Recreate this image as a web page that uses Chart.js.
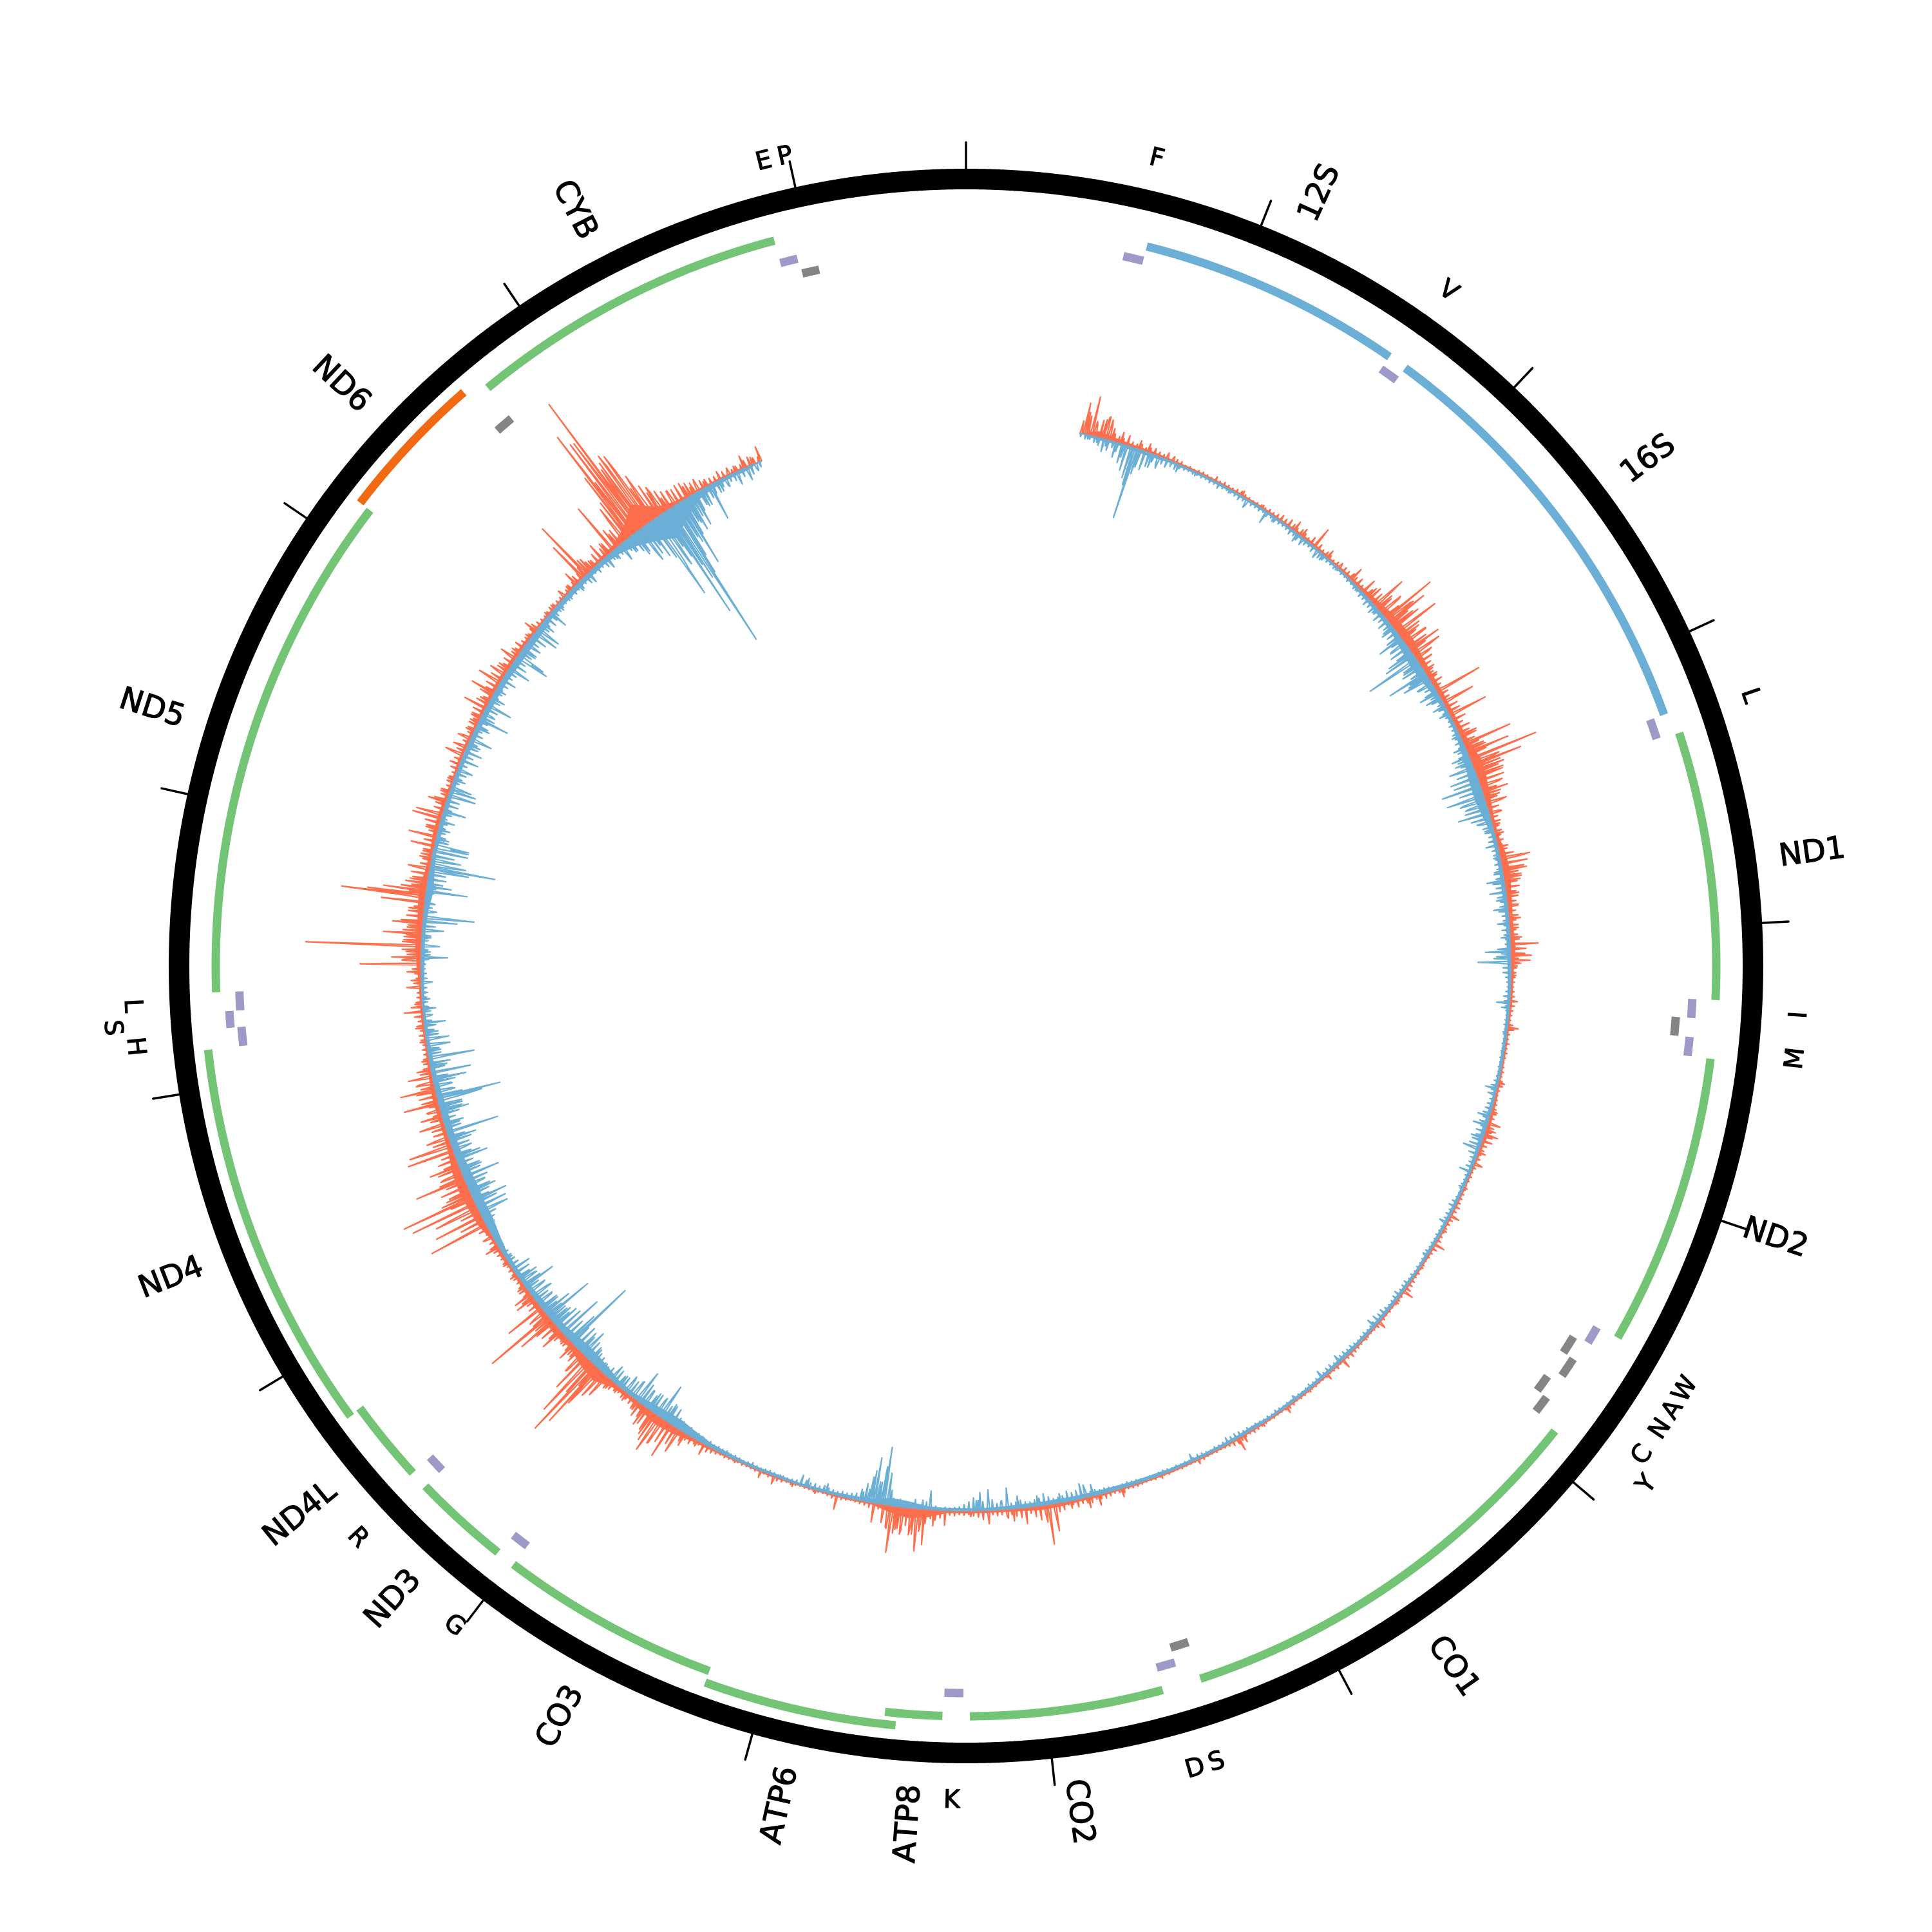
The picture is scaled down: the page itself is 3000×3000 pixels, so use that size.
<!DOCTYPE html>
<html>
<head>
<meta charset="utf-8">
<title>Mitochondrial coverage</title>
<script src="https://cdn.jsdelivr.net/npm/chart.js@4/dist/chart.umd.min.js"></script>
<style>
  html, body { margin: 0; padding: 0; background: #fff; }
  canvas { display: block; }
</style>
</head>
<body>
<canvas id="chart-ring" width="3000" height="3000"></canvas>
<script>
// Genome length and tick step, in bp
const genomeLength = 16569;
const tickBp = [0, 1000, 2000, 3000, 4000, 5000, 6000, 7000, 8000, 9000, 10000, 11000, 12000, 13000, 14000, 15000, 16000];

// Gene tracks, start and end in bp
const greenStart = [3307, 4470, 5904, 7586, 8366, 9207, 10059, 10470, 12337, 14747];
const greenEnd = [4262, 5511, 7445, 8269, 8572, 9990, 10404, 10766, 14148, 15887];
const greenOuterStart = [8527, 10760];
const greenOuterEnd = [9207, 12137];
const orangeStart = [14149];
const orangeEnd = [14673];
const rrnaStart = [648, 1671];
const rrnaEnd = [1601, 3229];
const purpleStart = [577, 1602, 3230, 4263, 4402, 5512, 7518, 8295, 9991, 10405, 12138, 12266, 15888];
const purpleEnd = [647, 1670, 3304, 4331, 4469, 5579, 7585, 8364, 10058, 10469, 12206, 12336, 15953];
const purpleOuterStart = [12207];
const purpleOuterEnd = [12265];
const grayStart = [4329, 5587, 5761, 7446, 14674, 15956];
const grayEnd = [4400, 5655, 5826, 7514, 14742, 16023];
const grayOuterStart = [5657, 5826];
const grayOuterEnd = [5729, 5891];

// Labels
const geneNames = ["12S", "16S", "ND1", "ND2", "CO1", "CO2", "ATP8", "ATP6", "CO3", "ND3", "ND4L", "ND4", "ND5", "ND6", "CYB"];
const geneBp = [1124, 2450, 3784, 4990, 6674, 7927, 8469, 8867, 9598, 10231, 10618, 11448, 13242, 14411, 15317];
const trnaNames = ["F", "V", "L", "I", "M", "W", "A", "N", "C", "S", "D", "K", "G", "R", "H", "L", "E", "P"];
const trnaBp = [612, 1636, 3267, 4297, 4435, 5545, 5621, 5693, 5793, 7480, 7551, 8330, 10024, 10437, 12172, 12301, 15920, 15989];
const trnaOuterNames = ["Y", "S"];
const trnaOuterBp = [5858, 12236];

// Coverage: thickness of the solid body every 2 degrees from 12 to 338
const redBody = [0,10,6,4,4,3,3,3,3,3, 3,3,3,4,4,3,4,5,8,12, 14,14,10,8,8,7,8,10,16,14, 10,6,5,10,12,9,7,6,8,5, 4,4,3,3,3,3,4,5,6,4, 3,3,3,3,3,3,3,3,3,3, 3,3,3,3,3,3,3,3,3,3, 3,3,3,3,3,3,3,4,4,6, 7,5,4,4,4,4,12,16,10,3, 3,3,2,2,3,3,2,3,4,6, 11,14,10,6,8,20,16,8,12,10, 8,6,4,6,5,12,14,16,14,9, 7,7,8,6,4,3,4,4,4,7, 10,8,10,12,7,5,7,7,5,3, 5,5,4,5,6,6,6,5,4,3, 3,4,5,5,7,18,40,14,5,4, 3,3,3,0];
const blueBody = [0,4,3,5,5,3,3,3,3,3, 3,3,3,4,3,3,3,4,5,6, 7,11,14,12,7,5,5,7,11,14, 15,11,5,5,5,6,5,5,6,5, 4,4,4,4,4,4,4,5,6,5, 4,4,4,4,4,4,3,4,4,4, 4,4,5,4,4,4,4,3,5,4, 4,4,4,4,5,5,6,6,6,6, 6,6,5,4,4,4,5,10,12,6, 5,4,4,3,4,4,4,5,6,10, 14,13,10,6,7,12,15,14,10,10, 9,7,6,6,10,14,14,15,13,11, 10,10,9,7,6,5,4,3,4,5, 5,5,7,11,8,5,6,6,6,6, 6,7,7,8,8,8,10,10,10,7, 7,7,7,7,10,18,30,44,28,12, 7,5,5,0];

// Coverage: short hairs every half degree from 12.2 on
const redHair = [
  20,35,12,18,28,34,24,12,10,9,14,8,7,9,6,8,5,7,6,5,
  5,6,4,3,4,3,4,5,4,3,5,4,6,5,4,6,7,5,4,3,
  4,5,4,6,5,7,10,8,12,9,7,10,8,6,12,18,10,6,8,7,
  5,7,6,9,8,11,10,14,8,18,14,24,20,30,26,36,28,44,34,48,
  30,38,26,40,34,28,32,22,24,16,18,12,14,18,12,16,20,14,18,12,
  20,16,18,14,22,18,26,20,24,32,30,40,36,44,38,42,30,36,24,28,
  20,24,16,18,12,14,10,12,9,11,8,14,22,30,26,34,24,28,20,22,
  16,18,14,16,12,15,11,14,10,12,14,18,16,22,12,16,9,8,7,6,
  5,6,7,9,8,6,5,4,8,10,5,4,6,4,5,4,3,4,5,4,
  6,8,5,4,5,6,7,9,8,10,12,10,14,16,10,8,6,7,8,6,
  4,5,4,3,4,5,5,6,8,6,5,7,6,5,4,5,7,9,8,5,
  4,3,4,3,5,4,6,7,9,5,4,5,4,3,4,3,5,7,6,4,
  3,4,3,4,5,6,8,5,4,3,6,4,3,4,3,3,4,3,3,4,
  4,3,5,6,4,3,3,4,3,4,4,5,6,4,5,7,9,8,5,4,
  3,4,3,3,5,4,3,3,3,4,3,3,4,3,3,4,3,3,4,5,
  5,4,8,6,5,7,9,8,7,10,9,8,12,7,6,12,14,18,20,16,
  14,16,10,13,15,12,9,11,8,9,7,8,14,10,8,6,7,6,8,7,
  10,12,16,14,22,26,40,32,38,42,36,30,34,28,48,30,8,6,5,4,
  3,4,5,9,6,4,3,3,4,3,3,2,3,4,3,5,6,4,5,3,
  3,4,3,3,4,3,3,4,5,4,6,8,10,7,6,8,12,10,16,22,
  30,36,30,44,40,48,34,28,20,24,16,12,10,12,9,11,14,18,26,34,
  48,40,60,52,44,38,24,18,16,14,12,18,22,26,34,30,28,20,24,18,
  16,20,12,14,10,8,9,7,8,6,9,8,10,12,14,10,12,8,16,24,
  36,44,32,48,54,38,50,34,46,32,40,30,36,24,30,22,40,34,28,22,
  18,22,16,20,14,22,16,26,20,30,22,24,16,18,12,10,9,7,8,6,
  8,10,7,12,9,14,12,18,10,8,7,9,12,8,10,14,18,26,22,30,
  20,28,24,30,22,34,18,24,16,22,30,26,40,34,24,28,20,16,14,18,
  16,24,18,28,14,20,24,30,18,12,16,20,12,14,8,10,9,7,12,16,
  12,18,14,12,10,14,9,12,14,10,16,18,14,20,12,22,16,24,18,20,
  16,18,12,16,14,12,10,13,9,8,7,10,12,8,6,5,6,8,7,6,
  6,9,7,10,8,14,12,18,26,16,12,18,22,16,20,30,34,28,40,46,
  60,70,90,110,130,100,80,56,48,36,30,26,24,20,26,22,18,20,14,12,
  10,9,12,10,8,7,9,8,12,14,10,8,12,
];
const blueHair = [
  5,7,6,9,12,20,16,10,14,30,40,36,22,28,16,18,12,14,10,12,
  8,10,6,5,4,5,4,5,4,6,5,7,5,4,5,6,8,6,10,6,
  5,6,4,7,5,8,6,5,6,9,7,10,6,8,6,9,7,10,8,6,
  5,6,4,5,4,6,5,7,6,9,8,12,10,14,10,16,12,18,14,22,
  18,24,20,28,32,26,30,38,28,34,24,30,20,26,16,20,14,16,10,12,
  9,8,7,9,8,10,9,12,10,14,16,20,18,24,22,30,26,32,36,30,
  34,28,36,24,30,20,16,14,10,12,8,10,9,7,10,8,14,12,18,14,
  12,14,10,12,14,10,9,8,12,9,7,8,20,14,26,18,30,12,8,6,
  5,7,10,8,6,5,4,5,6,4,5,4,5,4,4,5,4,5,4,5,
  7,10,8,6,7,9,10,12,10,13,9,14,12,16,18,12,10,9,8,10,
  7,6,5,6,5,4,5,8,7,6,8,7,6,5,5,6,5,6,5,7,
  6,5,4,5,4,6,5,8,7,6,7,8,6,5,7,10,9,12,7,6,
  5,7,6,5,6,8,7,9,8,7,6,9,8,6,5,6,5,7,5,4,
  5,6,4,5,4,5,6,4,5,4,5,6,5,7,6,8,9,8,7,6,
  5,6,4,5,6,7,5,4,5,4,5,4,5,6,5,4,5,4,5,6,
  6,7,6,5,6,7,8,7,9,8,12,10,14,12,16,10,9,8,12,10,
  12,10,8,9,12,10,9,12,14,10,16,12,14,16,20,14,10,6,5,4,
  5,4,6,8,12,6,5,6,7,6,9,12,18,24,34,30,40,28,18,10,
  8,7,8,6,7,8,10,7,9,8,10,7,6,5,4,5,4,5,6,5,
  4,5,6,5,4,5,6,5,7,6,7,6,8,7,9,10,9,12,10,14,
  16,20,28,24,32,26,30,24,28,34,26,30,24,28,20,18,22,14,16,12,
  14,18,20,26,30,24,36,40,34,44,30,38,28,40,34,30,28,24,30,26,
  24,28,26,22,30,24,20,24,18,14,12,10,9,7,8,6,9,7,10,14,
  18,24,28,34,36,26,30,34,28,36,26,30,32,24,30,26,22,28,34,26,
  40,24,30,20,28,34,36,48,40,26,28,34,24,30,22,32,26,20,18,22,
  16,20,14,18,12,10,12,9,8,7,9,8,10,9,8,6,7,12,14,10,
  12,10,14,16,20,30,26,14,12,10,9,12,14,24,20,26,30,36,28,34,
  30,26,20,14,12,10,11,9,14,12,16,20,18,12,14,10,12,16,14,12,
  14,16,12,18,14,20,16,12,18,14,22,16,20,14,16,10,12,9,14,11,
  13,16,14,20,18,26,20,24,16,18,14,20,24,16,12,18,14,12,10,9,
  8,9,7,10,8,12,9,14,10,8,12,9,14,10,12,16,14,20,18,24,
  30,36,44,50,60,70,80,90,80,100,110,90,70,60,44,36,30,24,28,20,
  16,18,12,14,10,12,9,12,10,14,9,8,6,
];

// Coverage: single long reads, position in degrees and height
const redSpikeDeg = [12.45,12.9,13.3,13.6,14.5,14.8,15.1,15.5,16.5,17.2,18.5,19.5,20.2,21.6,22.3,23.2,27.2,30.4,32.9,37,38,39.7,41.5,43.1,44.9,46.7,47.4,48.6,49,49.6,50.4,50.8,51,51.5,52.3,53,53.6,54.5,55.1,55.6,56.7,57.4,58,59.8,60.2,61.1,61.7,62.6,63.2,64.2,65,66,66.5,67,67.7,68.1,68.4,69,69.5,70.2,70.8,71.4,72,72.6,73.2,73.8,75,76,77.4,78.6,79.2,79.9,80.5,81,81.7,82.4,83.6,85,86,87,87.7,88.2,88.9,89.4,90,91,93.7,96.5,102.4,105.5,106.8,107.5,108,110,111.3,114,117.3,119,120.7,123.5,126.6,128,130.8,133,136.3,138.5,141,144,147,149.4,150,154.8,159,163.4,165.9,167,168.9,170.6,171.3,171.6,172.2,173.7,175,175.6,177.6,179.5,182.2,183.4,184.4,184.8,185.1,185.5,185.8,186.2,186.6,187,187.4,187.8,188.1,188.6,189.2,193.7,196,198.5,200.6,202.1,205,208.7,209.5,211,211.8,212.7,213.2,213.8,214.3,215,216,217,218.4,219.5,220.5,221.3,221.8,222.3,222.5,222.9,223,223.6,224.2,224.6,225.4,226,227,228,228.7,229.4,230,230.6,231.2,232.5,233,234,235.5,237,239,240.3,241.7,242.2,242.7,243.6,244.2,244.9,245.5,246.2,247,247.6,248.5,249.2,250.2,250.8,251.6,252.2,253.1,254,254.6,255.4,256.2,256.9,257.6,258.3,259,260,262,263.5,265.2,266,267.8,268.5,269.4,270.2,270.6,270.9,271.5,272.1,272.5,273,273.4,274,274.5,275.2,276,276.7,277.3,277.5,277.9,278.4,279,280.3,281.4,282,282.7,283.7,284.5,285.7,286.1,286.7,287.5,288.5,290,292.8,293.6,294.6,295.5,296.5,297,298.2,299,300,300.7,301.3,302.3,303,304.3,305,305.7,307,307.9,310,311,312.6,313.5,314.4,315.4,315.9,316.5,317,318.2,319,319.7,320.4,321.3,321.7,322,322.3,322.5,322.8,323.1,323.4,323.6,323.9,324.3,324.6,324.9,325.1,325.3,326,326.3,326.9,327.8,328.7,329.4,330,330.6,331.5,333.2,334.3,335,336,337,337.9];
const redSpikeLen = [49,30,62,24,30,36,32,20,18,16,14,14,10,11,9,6,8,9,6,17,14,34,14,10,23,25,20,56,30,40,89,50,68,40,74,34,40,54,49,30,17,14,16,75,16,52,20,62,22,22,28,78,30,68,110,46,80,48,44,41,30,41,25,33,18,20,12,14,16,47,41,38,28,25,22,20,17,18,14,18,43,24,32,30,10,8,12,17,10,10,20,16,22,12,14,6,15,7,17,5,17,6,13,5,15,10,5,11,6,12,21,8,6,14,17,17,12,43,62,27,22,25,19,14,21,9,23,25,55,35,66,40,42,28,37,34,42,73,36,12,8,22,6,6,13,11,5,18,10,22,40,57,36,45,62,40,33,16,14,12,16,40,48,71,111,60,135,104,65,36,18,30,14,37,30,62,114,30,64,32,30,14,12,10,23,17,96,40,79,72,107,117,40,44,80,36,48,30,74,68,36,22,40,34,20,55,28,55,28,38,22,12,10,14,29,12,23,16,22,95,30,46,24,180,30,28,60,24,47,26,24,68,131,91,67,24,28,34,19,16,37,44,20,46,42,16,29,14,10,30,22,21,14,14,16,37,16,39,20,38,27,18,27,14,15,10,21,8,8,14,10,24,66,99,24,14,29,22,84,24,62,70,115,191,100,170,168,240,82,120,110,124,60,55,37,40,39,21,26,27,19,12,15,10,14,12,10,21,12,24];
const blueSpikeDeg = [13,14,15,16,16.9,17.7,18,18.2,18.5,19.2,19.7,20,20.8,23,25,27.7,29,31.1,33.5,34.5,37.5,38.3,40.3,41,43,46,49,51.5,53,53.6,54.9,55.2,55.8,56.4,57.5,57.9,58.1,58.8,59.9,60.5,61.5,62.4,65,66.4,67.4,68,68.6,69.2,69.7,70.2,70.7,71.2,71.8,72.3,72.8,73.7,74.2,74.6,75.5,77.2,78.5,80,81,82.2,83,84,85.5,87,88.5,89,89.6,90.2,93.9,94.4,97,99,103,103.6,106,107,108.4,109.6,110.2,112.2,114,116.2,118.1,122.1,127.2,131.4,136.6,139.1,142.8,151.2,155.4,166.5,167.3,167.7,170,171.7,172.4,174.5,175.6,176.3,177.6,178.5,178.9,183.8,184.6,185.4,187,188,188.3,188.7,188.9,189.4,189.7,190,190.4,191,194.9,197,197.7,200,203.2,206,209,211.5,212.7,213.4,214.1,214.6,215.5,216.3,217.1,217.8,218.6,219.5,220.6,222,223.5,224.6,225,226.4,226.7,227.2,227.7,228.2,228.9,229.4,230,230.5,231,231.8,232.6,233.3,234,234.6,235,236.2,237.5,239,241,243.1,243.7,244.5,245.5,246.3,247.2,248,249.2,249.5,250.3,251.5,252.2,253,254.5,255,255.8,256,256.6,257.3,258,258.7,259.4,260.3,261,261.6,262.3,263,264,264.8,265.5,266.5,268.3,269.2,270.9,271.5,272.1,273,273.8,274.7,275.1,275.8,276.6,277.9,278.4,279.2,280.1,280.4,280.8,281.3,282.2,282.6,282.8,283.5,284.5,285.4,286.5,287.2,288.3,288.8,289.1,290,291.1,292.2,293.2,294,294.6,296,296.9,297.6,298.6,299.5,300.5,301.7,303.1,303.7,304.6,304.8,305.5,306.3,307.2,307.8,308.3,309,310.4,311.5,313,314.5,316.1,317.2,318.6,319.5,320.6,321.5,322.5,323.3,324,324.7,325,325.1,325.6,326,326.4,326.9,327.2,327.3,327.5,328,328.5,329,329.4,330,330.9,332,333,333.8,335.1,336.3,337.3];
const blueSpikeLen = [6,8,10,24,20,50,60,113,40,30,22,22,19,12,6,8,6,14,20,8,14,12,14,10,5,6,10,18,41,26,43,51,87,30,65,34,44,24,30,24,20,16,13,19,28,26,39,30,43,40,62,36,59,40,34,49,30,23,14,18,10,13,27,25,16,22,18,14,39,22,51,12,20,12,6,5,18,12,19,22,19,26,14,18,8,10,12,8,10,14,13,13,8,10,12,18,20,23,14,18,16,19,33,12,32,28,16,29,14,14,12,24,50,90,59,34,71,50,20,14,14,14,16,5,7,5,8,12,27,30,56,30,30,28,52,28,24,20,26,14,24,44,30,115,52,34,71,42,28,30,79,46,30,28,35,30,52,28,31,29,10,8,10,47,48,54,42,30,58,34,50,40,30,43,82,24,44,36,70,100,30,26,52,61,26,71,20,36,36,20,33,14,20,12,17,8,41,14,28,14,33,53,79,20,16,64,38,28,61,102,55,46,54,54,54,20,18,22,35,20,43,41,33,18,24,27,27,20,35,22,47,20,40,22,16,23,35,24,54,46,24,25,26,40,39,22,29,12,10,14,18,12,20,14,28,24,39,58,38,68,138,94,80,60,183,125,149,243,120,60,109,40,57,53,28,58,18,16,21,21,12];

// One category per tenth of a degree
const binCount = 3600;
const ringLabels = Array.from({ length: binCount }, (_, i) => String(i));

const bpToBin = (bp) => (bp / genomeLength) * binCount;

function trackData(starts, ends, radius) {
  const values = new Array(binCount).fill(null);
  starts.forEach((start, i) => {
    const first = Math.round(bpToBin(start));
    const last = Math.round(bpToBin(ends[i]));
    for (let b = first; b <= last; b += 1) values[b] = radius;
  });
  return values;
}

// Body values sit every 2 degrees, the gaps are spanned by the line
function bodyData(values, base, sign) {
  const out = new Array(binCount).fill(null);
  values.forEach((v, i) => {
    out[(12 + i * 2) * 10] = base + sign * v;
  });
  return out;
}

function hairData(hair, degs, lens, base, sign) {
  const out = new Array(binCount).fill(null);
  for (let b = 120; b <= 3380; b += 1) out[b] = base;
  hair.forEach((h, i) => {
    out[122 + i * 5] = base + sign * h;
  });
  degs.forEach((d, i) => {
    out[Math.round(d * 10)] = base + sign * lens[i];
  });
  return out;
}

const baseRadius = 846;
const redColor = "#fd6e4c";
const blueColor = "#6baed6";

function track(data, color, width) {
  return {
    data,
    borderColor: color,
    backgroundColor: color,
    borderWidth: width,
    pointRadius: 0,
    fill: false,
    borderCapStyle: "butt",
    borderJoinStyle: "round",
  };
}

const ringPlugin = {
  id: "ringLabels",
  afterDatasetsDraw(chart) {
    const scale = chart.scales.r;
    const ctx = chart.ctx;
    ctx.save();

    // tick marks
    ctx.strokeStyle = "#000";
    ctx.lineWidth = 3.5;
    ctx.lineCap = "round";
    tickBp.forEach((bp) => {
      const from = scale.getPointPositionForValue(bpToBin(bp), 1236);
      const to = scale.getPointPositionForValue(bpToBin(bp), 1279);
      ctx.beginPath();
      ctx.moveTo(from.x, from.y);
      ctx.lineTo(to.x, to.y);
      ctx.stroke();
    });

    ctx.fillStyle = "#000";
    ctx.textBaseline = "middle";
    ctx.fontKerning = "none";
    ctx.lineWidth = 1.2;
    ctx.lineJoin = "round";

    // big genes run along the radius
    ctx.font = '48px "DejaVu Sans"';
    geneNames.forEach((name, i) => {
      const deg = (geneBp[i] / genomeLength) * 360;
      const pos = scale.getPointPositionForValue(bpToBin(geneBp[i]), 1274);
      const onRight = deg < 180;
      ctx.save();
      ctx.translate(pos.x, pos.y);
      ctx.rotate(((onRight ? deg - 90 : deg + 90) * Math.PI) / 180);
      ctx.textAlign = onRight ? "left" : "right";
      ctx.fillText(name, 0, 5);
      ctx.strokeText(name, 0, 5);
      ctx.restore();
    });

    // tRNA letters run along the circle
    ctx.font = '39px "DejaVu Sans"';
    ctx.textAlign = "center";
    const drawLetter = (name, bp, radius) => {
      const deg = (bp / genomeLength) * 360;
      const pos = scale.getPointPositionForValue(bpToBin(bp), radius);
      const flip = deg > 90 && deg < 270;
      ctx.save();
      ctx.translate(pos.x, pos.y);
      ctx.rotate(((flip ? deg - 180 : deg) * Math.PI) / 180);
      ctx.fillText(name, 0, 5);
      ctx.strokeText(name, 0, 5);
      ctx.restore();
    };
    trnaNames.forEach((name, i) => drawLetter(name, trnaBp[i], 1292));
    trnaOuterNames.forEach((name, i) => drawLetter(name, trnaOuterBp[i], 1325));

    ctx.restore();
  },
};

new Chart(document.getElementById("chart-ring"), {
  type: "radar",
  plugins: [ringPlugin],
  data: {
    labels: ringLabels,
    datasets: [
      // 0 outer ring
      track(new Array(binCount).fill(1222), "#000", 32),
      track(trackData(greenStart, greenEnd, 1165), "#74c476", 13),
      track(trackData(greenOuterStart, greenOuterEnd, 1184), "#74c476", 13),
      track(trackData(orangeStart, orangeEnd, 1184), "#f16913", 13),
      track(trackData(rrnaStart, rrnaEnd, 1152), "#6baed6", 13),
      track(trackData(purpleStart, purpleEnd, 1129), "#9e9ac8", 13),
      track(trackData(purpleOuterStart, purpleOuterEnd, 1146), "#9e9ac8", 13),
      track(trackData(grayStart, grayEnd, 1105), "#858585", 13),
      track(trackData(grayOuterStart, grayOuterEnd, 1123), "#858585", 13),
      // 9, 10 hairs on top of the bodies
      track(hairData(blueHair, blueSpikeDeg, blueSpikeLen, baseRadius, -1), blueColor, 2.2),
      track(hairData(redHair, redSpikeDeg, redSpikeLen, baseRadius, 1), redColor, 2.2),
      // 11, 12 solid bodies, filled down to dataset 13
      { ...track(bodyData(blueBody, baseRadius, -1), blueColor, 0), fill: 13, spanGaps: true },
      { ...track(bodyData(redBody, baseRadius, 1), redColor, 0), fill: 13, spanGaps: true },
      { ...track(bodyData(new Array(redBody.length).fill(0), baseRadius, 1), "transparent", 0), spanGaps: true },
    ],
  },
  options: {
    responsive: false,
    animation: false,
    layout: { padding: 0 },
    elements: { line: { tension: 0 }, point: { radius: 0 } },
    plugins: {
      legend: { display: false },
      tooltip: { enabled: false },
      title: { display: false },
    },
    scales: {
      r: {
        min: 0,
        max: 1500,
        ticks: { display: false },
        grid: { display: false },
        angleLines: { display: false },
        pointLabels: { display: false },
      },
    },
  },
});
</script>
</body>
</html>
